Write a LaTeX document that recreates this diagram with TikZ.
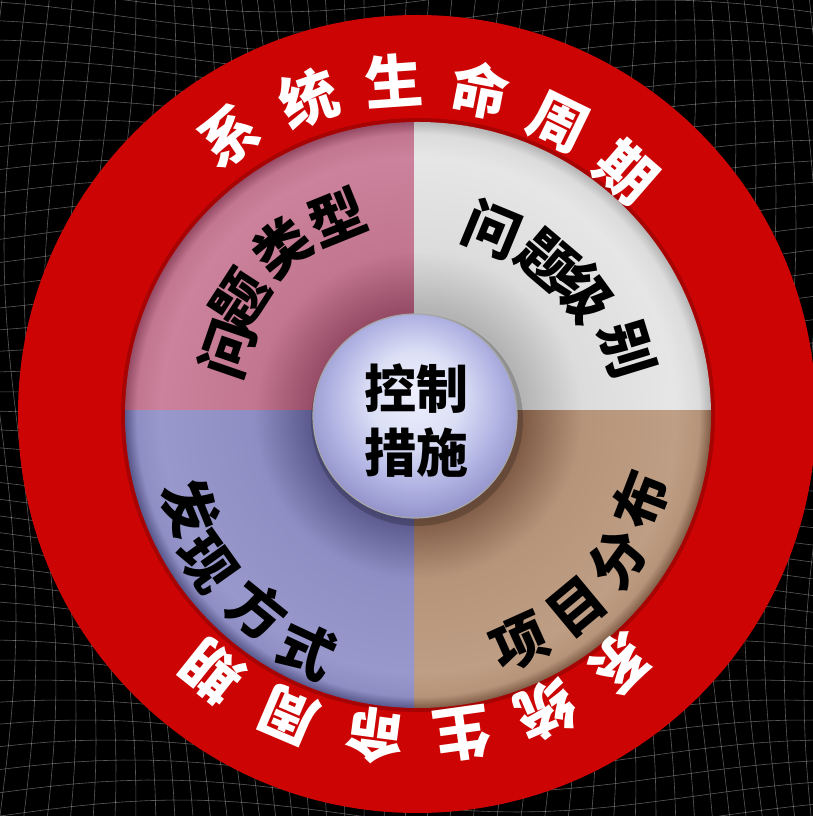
\documentclass[tikz,border=0pt]{standalone}
\usepackage{fontspec}
\newfontfamily\cjk{Noto Sans CJK SC}
\definecolor{ringred}{RGB}{205,4,4}
\definecolor{pinkdark}{RGB}{150,76,102}
\definecolor{pinkbase}{RGB}{194,118,144}
\definecolor{pinklight}{RGB}{204,130,156}
\definecolor{greydark}{RGB}{180,180,180}
\definecolor{greybase}{RGB}{220,220,220}
\definecolor{greylight}{RGB}{230,230,230}
\definecolor{browndark}{RGB}{128,92,70}
\definecolor{brownbase}{RGB}{182,148,122}
\definecolor{brownlight}{RGB}{190,158,132}
\definecolor{lavdark}{RGB}{88,88,140}
\definecolor{lavbase}{RGB}{142,142,196}
\definecolor{lavlight}{RGB}{152,152,204}
\definecolor{ballhi}{RGB}{238,240,252}
\definecolor{ballmid}{RGB}{220,224,246}
\definecolor{balllow}{RGB}{176,178,226}
\definecolor{ballrim}{RGB}{150,150,205}
\pgfdeclareradialshading{pinkq}{\pgfpoint{0bp}{0bp}}{color(0bp)=(pinkdark); color(9bp)=(pinkdark); color(14bp)=(pinkbase); color(22bp)=(pinklight); color(24bp)=(pinkbase); color(25bp)=(pinkdark); color(50bp)=(pinkdark)}
\pgfdeclareradialshading{greyq}{\pgfpoint{0bp}{0bp}}{color(0bp)=(greydark); color(9bp)=(greydark); color(14bp)=(greybase); color(22bp)=(greylight); color(24bp)=(greybase); color(25bp)=(greydark); color(50bp)=(greydark)}
\pgfdeclareradialshading{brownq}{\pgfpoint{0bp}{0bp}}{color(0bp)=(browndark); color(9bp)=(browndark); color(14bp)=(brownbase); color(22bp)=(brownlight); color(24bp)=(brownbase); color(25bp)=(browndark); color(50bp)=(browndark)}
\pgfdeclareradialshading{lavq}{\pgfpoint{0bp}{0bp}}{color(0bp)=(lavdark); color(9bp)=(lavdark); color(14bp)=(lavbase); color(22bp)=(lavlight); color(24bp)=(lavbase); color(25bp)=(lavdark); color(50bp)=(lavdark)}
\pgfdeclareradialshading{ballshade}{\pgfpoint{0bp}{6bp}}{color(0bp)=(ballhi); color(11bp)=(ballmid); color(21bp)=(balllow); color(27bp)=(ballrim); color(50bp)=(ballrim)}
\tikzset{
  meshline/.style={white, opacity=0.35, line width=0.6pt},
  ringtext/.style={font=\cjk\bfseries\fontsize{58}{58}\selectfont, text=white, inner sep=0pt},
  quadtext/.style={font=\cjk\bfseries\fontsize{56}{56}\selectfont, text=black, inner sep=0pt},
  centertext/.style={font=\cjk\bfseries\fontsize{52}{64}\selectfont, text=black, inner sep=0pt, align=center},
}
\begin{document}
\begin{tikzpicture}[x=1pt,y=1pt]
\useasboundingbox (0,0) rectangle (813,816);
\fill[black] (0,0) rectangle (813,816);
% background mesh
\begin{scope}
\clip (0,0) rectangle (813,816);
\foreach \u in {-40,-20,...,860}
  \draw[meshline] plot[domain=0:816, samples=34, variable=\t] ({\u + 16*sin(0.45*\t + 0.7*\u)}, {\t});
\foreach \v in {-40,-20,...,860}
  \draw[meshline] plot[domain=0:813, samples=34, variable=\t] ({\t}, {\v + 16*sin(0.5*\t + 0.6*\v)});
\end{scope}
\coordinate (R) at (417,402);
\coordinate (C) at (418,401);
\coordinate (D) at (414,405);
% red ring
\fill[ringred] (R) circle (399pt);
\fill[black, opacity=0.18] (C) circle (297pt);
% quadrants
\begin{scope}
\clip (D) rectangle ++(-310pt,310pt);
\shade[shading=pinkq] (C) circle (293pt);
\end{scope}
\begin{scope}
\clip (D) rectangle ++(310pt,310pt);
\shade[shading=greyq] (C) circle (293pt);
\end{scope}
\begin{scope}
\clip (D) rectangle ++(310pt,-310pt);
\shade[shading=brownq] (C) circle (293pt);
\end{scope}
\begin{scope}
\clip (D) rectangle ++(-310pt,-310pt);
\shade[shading=lavq] (C) circle (293pt);
\end{scope}
% centre ball
\coordinate (B) at (415,400);
\fill[black, opacity=0.2] ([shift={(2pt,-4pt)}]B) circle (106pt);
\shade[shading=ballshade, draw=gray!70, line width=1.2pt] (B) circle (102pt);
\node[centertext] (ctr) at (416,395) {控制\\措施};
% ring texts
\foreach \ch/\a/\r [count=\i] in {系/124/336,统/109/334,生/94/334,命/79/330,周/64/324,期/49/320}
  \node[ringtext, rotate=\a-90] (top\i) at ([shift={(\a:\r pt)}]R) {\ch};
\foreach \ch/\a/\r [count=\i] in {系/-51/322,统/-66.5/323,生/-82/323,命/-97.5/325,周/-113/327,期/-128.5/329}
  \node[ringtext, rotate=\a-90] (bot\i) at ([shift={(\a:\r pt)}]R) {\ch};
% quadrant texts
\foreach \ch/\a/\r [count=\i] in {问/161/200,题/147/210,类/129/215,型/112/213}
  \node[quadtext, rotate=\a-90] (ql\i) at ([shift={(\a:\r pt)}]R) {\ch};
\foreach \ch/\a/\r [count=\i] in {问/67.6/199,题/49.8/201,级/36/207,别/17/220}
  \node[quadtext, rotate=\a-90] (qr\i) at ([shift={(\a:\r pt)}]R) {\ch};
\foreach \ch/\a/\r [count=\i] in {项/-65.8/251,目/-50.3/251,分/-36/248,布/-21/239}
  \node[quadtext, rotate=\a+90] (qb\i) at ([shift={(\a:\r pt)}]R) {\ch};
\foreach \ch/\a/\r [count=\i] in {发/-157.7/245,现/-144.6/257,方/-129/253,式/-115/260}
  \node[quadtext, rotate=\a+90] (qf\i) at ([shift={(\a:\r pt)}]R) {\ch};
\end{tikzpicture}
\end{document}
